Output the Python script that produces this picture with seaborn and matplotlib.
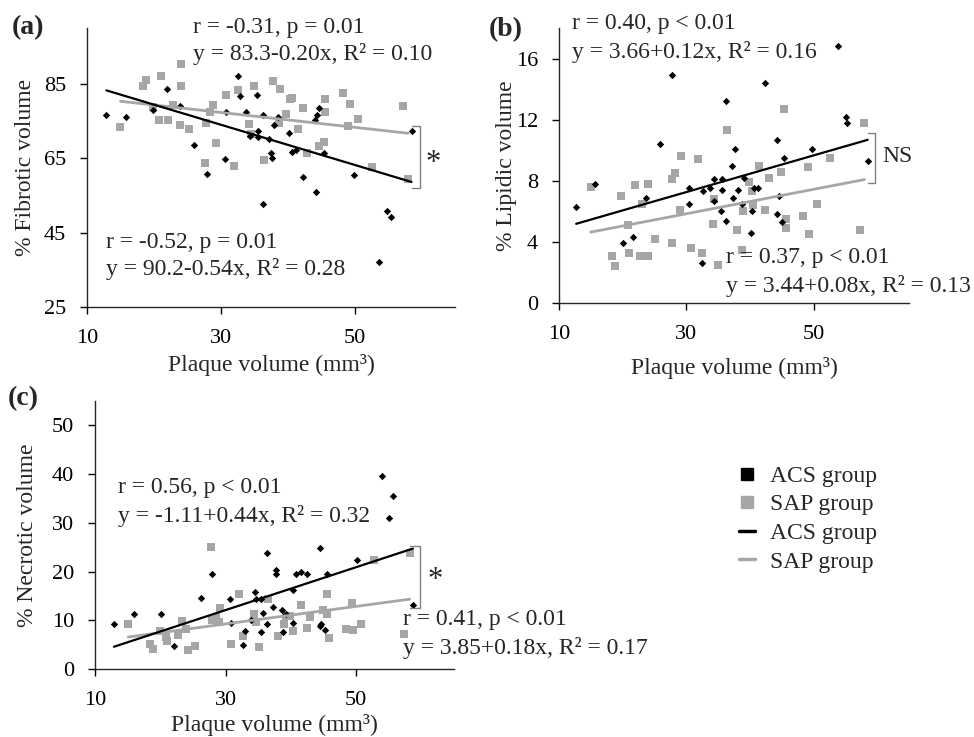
import matplotlib
matplotlib.use("Agg")
import matplotlib.pyplot as plt
import numpy as np
import pandas as pd
import seaborn as sns
from matplotlib.lines import Line2D

# ---- data ----
# (a) % fibrotic volume
fib_acs_x = [12.9, 15.8, 19.9, 21.9, 23.9, 26.0, 27.9, 30.6, 30.7, 32.5, 32.8, 33.8, 34.3,
             35.4, 35.6, 35.6, 36.3, 36.3, 37.2, 37.5, 37.6, 38.0, 38.6, 40.2, 40.7, 41.2,
             42.3, 44.1, 44.4, 44.7, 44.3, 45.4, 49.9, 53.7, 54.8, 55.4, 58.5]
fib_acs_y = [76.6, 76.0, 77.9, 83.7, 79.0, 68.5, 60.8, 64.9, 77.3, 87.0, 81.7, 77.4, 71.0,
             81.9, 72.4, 70.8, 76.6, 52.7, 70.1, 66.5, 65.1, 73.9, 76.1, 71.7, 66.7, 67.2,
             60.0, 75.2, 76.6, 78.4, 55.8, 66.5, 60.5, 37.2, 50.7, 49.1, 72.4]
fib_sap_x = [15.0, 18.4, 18.8, 21.0, 19.9, 20.8, 22.1, 22.8, 24.0, 24.0, 23.9, 25.2, 27.8,
             27.7, 28.4, 28.9, 29.3, 30.7, 32.0, 32.5, 34.2, 34.5, 35.0, 36.5, 37.8, 38.8,
             38.7, 39.7, 40.3, 40.6, 41.5, 42.3, 42.9, 44.7, 45.4, 45.5, 45.6, 48.3, 49.3,
             49.0, 50.5, 52.6, 57.2, 58.0]
fib_sap_y = [73.5, 84.5, 86.0, 87.2, 78.8, 75.2, 75.2, 79.3, 90.4, 84.4, 73.9, 72.8, 74.5,
             63.8, 77.5, 79.3, 69.2, 82.0, 63.0, 83.3, 74.2, 71.4, 84.4, 64.5, 85.7, 83.5,
             74.5, 76.8, 80.9, 81.1, 72.8, 78.6, 66.3, 68.4, 69.3, 77.5, 80.8, 82.4, 79.5,
             73.6, 75.5, 62.7, 79.0, 59.4]

# (b) % lipidic volume
lip_acs_x = [12.7, 15.7, 20.0, 21.7, 23.7, 25.9, 27.7, 30.5, 30.5, 32.4, 32.7, 33.7, 34.3,
             34.4, 35.6, 35.6, 35.5, 36.3, 36.3, 37.2, 37.4, 37.6, 38.1, 38.7, 39.0, 40.2,
             40.3, 40.6, 41.3, 42.4, 44.3, 44.3, 44.5, 45.0, 45.4, 49.8, 53.9, 55.1, 55.3, 58.5]
lip_acs_y = [6.3, 7.8, 3.9, 4.3, 6.9, 10.4, 14.9, 7.5, 6.5, 2.6, 7.3, 7.5, 8.1,
             6.7, 8.1, 7.4, 6.0, 13.2, 5.4, 9.0, 6.9, 10.1, 7.4, 6.5, 8.2, 4.6,
             6.0, 7.5, 7.5, 14.4, 10.7, 5.8, 7.0, 5.3, 9.5, 10.1, 16.8, 12.2, 11.8, 9.3]
lip_sap_x = [15.0, 18.4, 18.8, 19.8, 20.9, 21.0, 22.0, 22.7, 23.1, 24.0, 24.0, 25.1, 27.7,
             27.8, 28.3, 29.1, 29.0, 30.7, 31.9, 32.5, 34.2, 34.4, 35.0, 36.4, 37.9, 38.7,
             38.9, 39.8, 40.3, 40.5, 41.5, 42.4, 43.0, 44.9, 45.4, 45.6, 45.7, 48.3, 49.2,
             49.3, 50.6, 52.6, 57.3, 58.0]
lip_sap_y = [7.6, 3.1, 2.4, 7.0, 5.1, 3.3, 7.7, 3.1, 6.5, 7.8, 3.1, 4.2, 8.1,
             3.9, 8.5, 9.6, 6.1, 3.6, 9.4, 3.3, 5.2, 6.8, 2.5, 11.3, 4.8, 3.5,
             6.0, 7.9, 7.3, 6.4, 9.0, 6.1, 8.2, 8.6, 12.7, 5.5, 4.9, 5.7, 8.9,
             4.5, 6.5, 9.5, 4.8, 11.8]

# (c) % necrotic volume
nec_acs_x = [12.9, 15.9, 20.1, 22.1, 26.2, 27.9, 30.7, 30.8, 32.7, 33.0, 33.9, 34.5, 34.7,
             35.5, 35.7, 35.5, 36.3, 36.3, 37.2, 37.7, 37.8, 38.7, 38.8, 39.3, 40.4, 40.3,
             40.8, 41.5, 42.5, 44.4, 44.4, 44.7, 45.2, 45.6, 50.1, 53.9, 55.6, 55.1, 58.7]
nec_acs_y = [9.2, 11.2, 11.2, 4.8, 14.6, 19.5, 14.3, 9.4, 5.0, 7.7, 10.0, 15.9, 14.3,
             14.3, 11.4, 7.5, 23.8, 9.2, 12.7, 19.5, 20.4, 12.1, 7.5, 11.2, 16.2, 9.4,
             19.5, 19.9, 19.4, 24.8, 8.9, 9.2, 8.1, 19.5, 22.3, 39.7, 35.5, 31.0, 13.1]
nec_sap_x = [15.1, 18.4, 18.9, 19.9, 20.9, 21.1, 22.7, 23.3, 23.9, 24.2, 25.3, 27.8, 28.0,
             28.5, 29.2, 29.0, 30.8, 32.0, 32.6, 34.3, 34.7, 35.1, 36.5, 38.0, 39.0, 39.2,
             39.8, 40.4, 41.5, 42.5, 43.0, 44.9, 45.6, 45.6, 45.8, 48.4, 49.3, 49.5, 50.7,
             52.7, 57.4, 58.2]
nec_sap_y = [9.3, 5.1, 4.1, 7.9, 6.6, 5.8, 7.0, 9.9, 8.2, 3.9, 4.8, 25.1, 10.0,
             10.6, 12.6, 9.6, 5.1, 15.4, 6.8, 11.2, 9.6, 4.5, 14.3, 6.7, 9.3, 10.9,
             10.9, 7.9, 13.1, 8.5, 10.6, 12.1, 15.4, 11.2, 6.3, 8.2, 13.6, 8.0, 9.2,
             22.4, 7.2, 23.8]

# regression lines (intercept, slope) as printed in the figure
fib_fit = {"ACS": (90.2, -0.54), "SAP": (83.3, -0.20)}
lip_fit = {"ACS": (3.66, 0.12), "SAP": (3.44, 0.08)}
nec_fit = {"ACS": (-1.11, 0.44), "SAP": (3.85, 0.18)}

ACS_COLOR = "black"
SAP_COLOR = "#a6a6a6"
W, H = 974, 737

sns.set_style("ticks")
plt.rcParams["font.family"] = ["Liberation Serif", "DejaVu Serif"]
plt.rcParams["axes.linewidth"] = 1.0

fig = plt.figure(figsize=(W / 100, H / 100), dpi=100)


def px_axes(left, right, top, bottom):
    return fig.add_axes([left / W, 1 - bottom / H, (right - left) / W, (bottom - top) / H])


def ftext(x, y, s, size=17, **kw):
    fig.text(x / W, 1 - y / H, s, fontsize=size, va="center", ha="left", **kw)


def draw_panel(ax, acs_x, acs_y, sap_x, sap_y, fit, ylim, yticks, ylabel,
               xlabelpad, ylabelpad):
    sns.scatterplot(x=sap_x, y=sap_y, marker="s", s=30, color=SAP_COLOR,
                    linewidth=0, ax=ax, clip_on=False)
    sns.scatterplot(x=acs_x, y=acs_y, marker="D", s=14, color=ACS_COLOR,
                    linewidth=0, ax=ax, clip_on=False)
    for grp, xs, col, lw in [("SAP", sap_x, SAP_COLOR, 2.0), ("ACS", acs_x, ACS_COLOR, 1.6)]:
        b0, b1 = fit[grp]
        xx = np.array([min(xs), max(xs)])
        sns.lineplot(x=xx, y=b0 + b1 * xx, color=col, lw=lw, ax=ax)
    ax.set_xlim(10, 65)
    ax.set_ylim(*ylim)
    ax.set_xticks([10, 30, 50])
    ax.set_yticks(yticks)
    ax.tick_params(labelsize=16, length=5, width=1, direction="out", colors="black")
    ax.tick_params(axis="x", pad=10.5)
    ax.tick_params(axis="y", pad=10)
    ax.set_xlabel("Plaque volume (mm³)", fontsize=17, labelpad=xlabelpad)
    ax.set_ylabel(ylabel, fontsize=17, labelpad=ylabelpad)
    sns.despine(ax=ax)


def bracket(ax, x0, x1, y0, y1):
    ax.plot([x0, x1, x1, x0], [y0, y0, y1, y1], color="#808080", lw=1.0, clip_on=False)


# (a)
ax_a = px_axes(87, 455, 28, 307)
draw_panel(ax_a, fib_acs_x, fib_acs_y, fib_sap_x, fib_sap_y, fib_fit,
           (25, 100), [25, 45, 65, 85], "% Fibrotic volume", 4.5, 5.5)
bracket(ax_a, 58.6, 59.7, 73.6, 57.1)
ax_a.text(60.6, 63.7, "*", fontsize=22, ha="left", va="center")

# (b)
ax_b = px_axes(559, 909, 28, 303)
draw_panel(ax_b, lip_acs_x, lip_acs_y, lip_sap_x, lip_sap_y, lip_fit,
           (0, 18), [0, 4, 8, 12, 16], "% Lipidic volume", 9.5, -1)
bracket(ax_b, 58.6, 59.7, 11.1, 7.85)
ax_b.text(60.8, 9.6, "NS", fontsize=17, ha="left", va="center")

# (c)
ax_c = px_axes(95, 454, 401, 669)
draw_panel(ax_c, nec_acs_x, nec_acs_y, nec_sap_x, nec_sap_y, nec_fit,
           (0, 55), [0, 10, 20, 30, 40, 50], "% Necrotic volume", 3.5, 10)
bracket(ax_c, 58.2, 59.8, 25.3, 12.6)
ax_c.text(61.0, 18.2, "*", fontsize=22, ha="left", va="center")

# panel letters
ftext(12, 28, "(a)", size=20, fontweight="bold")
ftext(489, 30, "(b)", size=20, fontweight="bold")
ftext(8, 399, "(c)", size=20, fontweight="bold")

# statistics annotations
ftext(193, 27, "r = -0.31, p = 0.01")
ftext(193, 54, "y = 83.3-0.20x, R² = 0.10")
ftext(106, 242, "r = -0.52, p = 0.01")
ftext(106, 269, "y = 90.2-0.54x, R² = 0.28")

ftext(572, 24, "r = 0.40, p < 0.01")
ftext(572, 52, "y = 3.66+0.12x, R² = 0.16")
ftext(726, 258, "r = 0.37, p < 0.01")
ftext(726, 286, "y = 3.44+0.08x, R² = 0.13")

ftext(118, 487, "r = 0.56, p < 0.01")
ftext(118, 516, "y = -1.11+0.44x, R² = 0.32")
ftext(403, 619, "r = 0.41, p < 0.01")
ftext(403, 648, "y = 3.85+0.18x, R² = 0.17")

# legend
handles = [
    Line2D([], [], marker="s", ls="none", color=ACS_COLOR, markersize=9),
    Line2D([], [], marker="s", ls="none", color=SAP_COLOR, markersize=9),
    Line2D([], [], color=ACS_COLOR, lw=2.5),
    Line2D([], [], color=SAP_COLOR, lw=2.5),
]
labels = ["ACS group", "SAP group", "ACS group", "SAP group"]
fig.legend(handles, labels, loc="center left", bbox_to_anchor=(727 / W, 1 - 519 / H),
           frameon=False, fontsize=17, handlelength=0.7, handletextpad=0.6,
           labelspacing=0.3, borderpad=0)

fig.savefig("out.png", dpi=100)
